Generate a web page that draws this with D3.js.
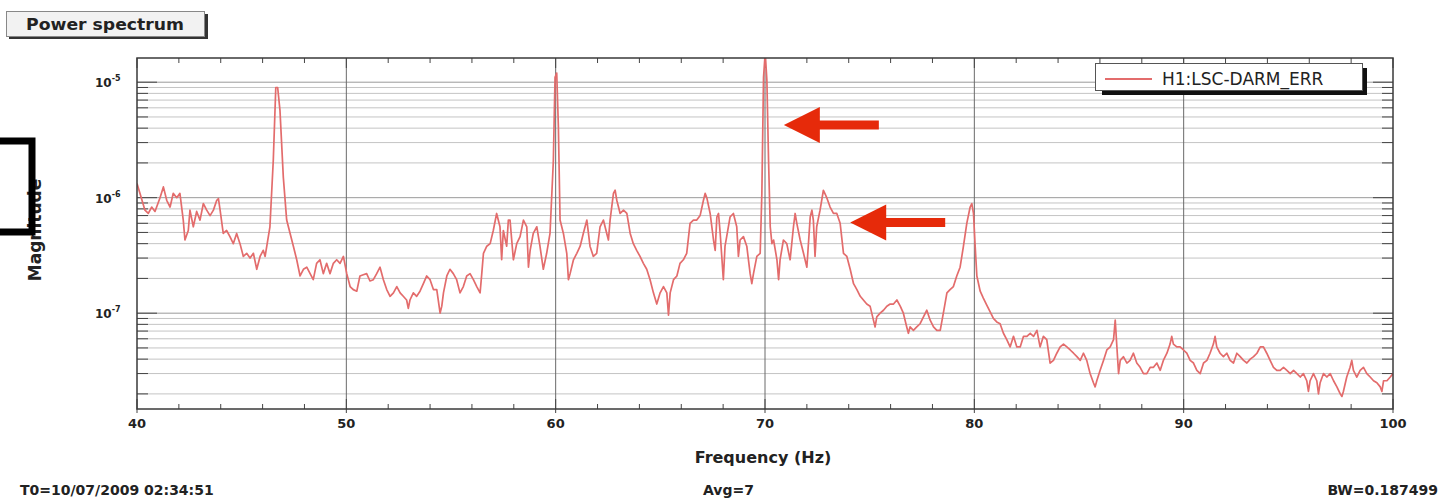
<!DOCTYPE html>
<html><head><meta charset="utf-8">
<script src="https://cdn.jsdelivr.net/npm/d3@7"></script>
<style>body{margin:0;background:#fff}svg{display:block}</style>
</head><body>
<script>
// ---- data ----
const frequency = [
40.00,40.14,40.38,40.54,40.70,40.86,41.10,41.26,41.42,41.58,41.73,41.90,42.05,42.21,42.29,42.45,42.53,42.69,42.85,43.01,
43.17,43.33,43.49,43.65,43.81,43.89,43.97,44.12,44.28,44.44,44.60,44.76,44.92,45.08,45.24,45.40,45.56,45.72,45.88,46.03,
46.12,46.20,46.35,46.51,46.63,46.72,46.83,46.99,47.15,47.47,47.63,47.79,47.95,48.11,48.27,48.42,48.58,48.74,48.90,49.06,
49.22,49.38,49.54,49.70,49.86,50.02,50.18,50.33,50.50,50.65,50.81,50.97,51.13,51.29,51.45,51.61,51.77,51.93,52.09,52.25,
52.41,52.57,52.72,52.88,52.96,53.04,53.20,53.36,53.52,53.68,53.84,54.00,54.16,54.32,54.48,54.56,54.64,54.80,54.95,55.11,
55.27,55.43,55.59,55.75,55.91,56.07,56.23,56.39,56.47,56.55,56.71,56.87,57.02,57.18,57.34,57.42,57.50,57.66,57.74,57.82,
57.98,58.14,58.30,58.46,58.62,58.70,58.78,58.93,59.10,59.25,59.41,59.57,59.73,59.89,59.97,60.05,60.13,60.21,60.37,60.53,
60.61,60.69,60.85,61.01,61.17,61.32,61.49,61.64,61.80,61.96,62.12,62.28,62.44,62.52,62.60,62.76,62.84,62.92,63.08,63.24,
63.40,63.56,63.71,63.87,64.03,64.19,64.35,64.51,64.67,64.83,64.99,65.15,65.31,65.39,65.47,65.63,65.79,65.94,66.10,66.26,
66.42,66.58,66.74,66.90,67.06,67.14,67.22,67.38,67.54,67.62,67.70,67.78,67.86,68.01,68.09,68.17,68.33,68.49,68.65,68.73,
68.81,68.97,69.13,69.29,69.37,69.45,69.61,69.77,69.85,69.93,70.01,70.09,70.17,70.25,70.33,70.41,70.57,70.65,70.72,70.88,
71.04,71.20,71.36,71.44,71.52,71.68,71.84,72.00,72.16,72.24,72.31,72.39,72.47,72.63,72.79,72.95,73.11,73.27,73.43,73.59,
73.75,73.91,74.07,74.23,74.39,74.55,74.70,74.86,75.02,75.18,75.26,75.34,75.50,75.66,75.82,75.98,76.14,76.30,76.46,76.61,
76.77,76.85,76.93,77.09,77.25,77.41,77.57,77.73,77.89,78.05,78.21,78.37,78.52,78.69,78.84,79.00,79.16,79.32,79.48,79.64,
79.80,79.88,79.96,80.04,80.12,80.28,80.43,80.60,80.75,80.91,81.07,81.23,81.39,81.55,81.71,81.87,82.03,82.19,82.35,82.51,
82.67,82.83,82.99,83.14,83.30,83.46,83.62,83.78,83.94,84.10,84.26,84.42,84.58,84.74,84.90,85.06,85.21,85.37,85.53,85.69,
85.77,85.85,86.01,86.17,86.33,86.49,86.65,86.73,86.81,86.89,86.97,87.12,87.29,87.44,87.60,87.76,87.92,88.08,88.24,88.40,
88.56,88.72,88.88,89.03,89.20,89.35,89.43,89.51,89.67,89.83,89.99,90.15,90.31,90.47,90.63,90.79,90.95,91.11,91.26,91.42,
91.50,91.58,91.74,91.90,92.06,92.22,92.38,92.54,92.70,92.86,93.02,93.18,93.34,93.50,93.66,93.81,93.97,94.13,94.29,94.45,
94.61,94.77,94.93,95.09,95.25,95.41,95.57,95.72,95.88,95.96,96.04,96.20,96.36,96.44,96.52,96.68,96.84,97.00,97.16,97.32,
97.48,97.56,97.63,97.79,97.95,98.03,98.11,98.27,98.43,98.59,98.75,98.91,99.07,99.23,99.39,99.47,99.55,99.71,99.87,100.00
];
const magnitude = [
1.33e-6,1.09e-6,7.8e-7,7.3e-7,8.3e-7,7.6e-7,1.0e-6,1.24e-6,9.5e-7,8.3e-7,1.09e-6,1.0e-6,1.09e-6,6.4e-7,4.3e-7,5.2e-7,7.8e-7,5.6e-7,7.6e-7,6.4e-7,
8.9e-7,7.8e-7,7.0e-7,7.8e-7,9.5e-7,9.8e-7,7.8e-7,4.9e-7,5.2e-7,4.6e-7,4.0e-7,4.9e-7,4.0e-7,3.1e-7,3.3e-7,3.0e-7,3.3e-7,2.4e-7,3.1e-7,3.5e-7,
3.1e-7,3.8e-7,5.6e-7,2.1e-6,9.0e-6,9.0e-6,5.7e-6,1.5e-6,6.4e-7,3.8e-7,2.9e-7,2.1e-7,2.4e-7,2.5e-7,2.2e-7,1.95e-7,2.7e-7,2.9e-7,2.2e-7,2.7e-7,
2.2e-7,2.7e-7,2.9e-7,2.7e-7,3.1e-7,2.2e-7,1.7e-7,1.6e-7,1.55e-7,2.1e-7,2.15e-7,2.2e-7,1.9e-7,1.95e-7,2.2e-7,2.5e-7,1.95e-7,1.6e-7,1.4e-7,1.5e-7,
1.7e-7,1.5e-7,1.4e-7,1.3e-7,1.1e-7,1.3e-7,1.5e-7,1.4e-7,1.55e-7,1.8e-7,2.1e-7,1.95e-7,1.6e-7,1.6e-7,1.0e-7,1.15e-7,1.5e-7,2.1e-7,2.4e-7,2.2e-7,
1.95e-7,1.5e-7,1.7e-7,2.1e-7,2.2e-7,1.95e-7,1.7e-7,1.5e-7,2.2e-7,3.3e-7,3.8e-7,4.0e-7,5.2e-7,7.3e-7,5.6e-7,2.9e-7,5.2e-7,3.8e-7,6.4e-7,6.4e-7,
2.9e-7,4.0e-7,4.6e-7,6.4e-7,5.6e-7,2.5e-7,3.5e-7,4.9e-7,5.6e-7,3.8e-7,2.4e-7,3.3e-7,4.9e-7,2.1e-6,1.1e-5,1.2e-5,4.1e-6,6.4e-7,4.9e-7,3.3e-7,
1.95e-7,2.2e-7,2.9e-7,3.3e-7,3.8e-7,4.9e-7,6.4e-7,3.8e-7,3.1e-7,3.3e-7,5.6e-7,6.4e-7,4.9e-7,4.3e-7,6.4e-7,1.09e-6,1.16e-6,9.5e-7,7.3e-7,7.8e-7,
7.3e-7,4.9e-7,4.0e-7,3.5e-7,3.1e-7,2.7e-7,2.4e-7,1.95e-7,1.5e-7,1.2e-7,1.5e-7,1.7e-7,1.5e-7,9.6e-8,1.5e-7,1.95e-7,2.1e-7,2.7e-7,2.9e-7,3.3e-7,
6.0e-7,6.4e-7,6.4e-7,7.0e-7,9.5e-7,1.09e-6,1.0e-6,7.3e-7,4.3e-7,3.5e-7,6.8e-7,7.3e-7,4.9e-7,1.95e-7,3.8e-7,4.6e-7,6.8e-7,7.3e-7,5.6e-7,3.1e-7,
4.3e-7,4.6e-7,3.8e-7,2.2e-7,1.8e-7,2.2e-7,3.1e-7,3.3e-7,1.09e-6,1.1e-5,1.8e-5,1.04e-5,2.1e-6,5.6e-7,4.0e-7,4.3e-7,2.9e-7,1.95e-7,2.9e-7,4.3e-7,
4.0e-7,2.9e-7,5.6e-7,7.3e-7,6.0e-7,4.3e-7,3.3e-7,2.5e-7,6.8e-7,7.8e-7,6.4e-7,3.1e-7,5.6e-7,7.8e-7,1.16e-6,1.0e-6,8.3e-7,7.3e-7,7.3e-7,6.0e-7,
3.3e-7,3.1e-7,2.4e-7,1.8e-7,1.6e-7,1.4e-7,1.3e-7,1.2e-7,1.15e-7,8.7e-8,7.6e-8,9.3e-8,1.0e-7,1.06e-7,1.15e-7,1.2e-7,1.2e-7,1.3e-7,1.15e-7,1.0e-7,
7.6e-8,6.7e-8,7.6e-8,7.1e-8,7.6e-8,8.1e-8,9.3e-8,1.06e-7,8.7e-8,7.6e-8,7.1e-8,7.1e-8,1.0e-7,1.5e-7,1.6e-7,1.7e-7,2.1e-7,2.5e-7,3.8e-7,6.0e-7,
8.3e-7,8.9e-7,7.3e-7,3.8e-7,2.1e-7,1.55e-7,1.35e-7,1.17e-7,1.03e-7,9.0e-8,8.4e-8,8.1e-8,6.7e-8,5.9e-8,5.1e-8,6.3e-8,5.1e-8,5.1e-8,6.3e-8,6.3e-8,
6.7e-8,6.3e-8,7.1e-8,5.1e-8,6.3e-8,5.9e-8,3.7e-8,3.9e-8,4.5e-8,5.1e-8,5.4e-8,5.1e-8,4.8e-8,4.5e-8,4.2e-8,3.9e-8,4.5e-8,3.9e-8,3.0e-8,2.5e-8,
2.3e-8,2.6e-8,3.2e-8,3.9e-8,4.8e-8,5.1e-8,5.9e-8,8.7e-8,5.1e-8,3.0e-8,3.9e-8,4.2e-8,3.7e-8,3.9e-8,4.5e-8,3.7e-8,3.4e-8,3.0e-8,3.0e-8,3.4e-8,
3.4e-8,3.7e-8,3.2e-8,3.9e-8,4.5e-8,5.4e-8,6.3e-8,5.4e-8,5.1e-8,5.1e-8,4.8e-8,4.5e-8,3.9e-8,3.7e-8,3.2e-8,3.0e-8,3.7e-8,3.9e-8,4.5e-8,5.4e-8,
6.3e-8,5.1e-8,4.5e-8,4.2e-8,4.5e-8,3.9e-8,3.7e-8,4.5e-8,4.2e-8,3.9e-8,3.7e-8,4.0e-8,4.2e-8,4.5e-8,5.1e-8,5.1e-8,4.5e-8,3.9e-8,3.4e-8,3.2e-8,
3.2e-8,3.4e-8,3.2e-8,3.0e-8,3.2e-8,3.0e-8,2.8e-8,3.0e-8,2.6e-8,2.1e-8,2.6e-8,3.0e-8,2.6e-8,2.0e-8,2.5e-8,3.0e-8,2.8e-8,3.0e-8,2.6e-8,2.3e-8,
2.0e-8,1.9e-8,2.1e-8,2.8e-8,3.4e-8,3.9e-8,3.2e-8,2.8e-8,3.2e-8,3.4e-8,3.0e-8,2.8e-8,2.6e-8,2.5e-8,2.3e-8,2.1e-8,2.6e-8,2.6e-8,2.8e-8,3.0e-8
];
const xTickLabels = [40,50,60,70,80,90,100];
const yDecades = [1e-7,1e-6,1e-5];
const yDecadeExponents = ["-7","-6","-5"];
const titleText = "Power spectrum";
const seriesName = "H1:LSC-DARM_ERR";
const xTitle = "Frequency (Hz)";
const yTitle = "Magnitude";
const footerLeft = "T0=10/07/2009 02:34:51";
const footerMid = "Avg=7";
const footerRight = "BW=0.187499";
const arrowTipFreq = [70.9, 74.07];
const arrowTipMag = [4.25e-6, 6.1e-7];

// ---- chart ----
const W = 1448, H = 500;
const P = {l:137, r:1393, t:58, b:409};
const FONT = "'DejaVu Sans', sans-serif";
const svg = d3.select("body").append("svg").attr("width", W).attr("height", H);
const x = d3.scaleLinear().domain([40,100]).range([P.l, P.r]);
const y = d3.scaleLog().domain([1.48e-8, 1.62e-5]).range([P.b, P.t]);

// horizontal grid at every log minor value
const gridVals = [];
for (let e = -8; e <= -5; e++) for (let m = 1; m <= 9; m++) {
  const v = m * Math.pow(10, e);
  if (v >= y.domain()[0] && v <= y.domain()[1]) gridVals.push({v, major: m === 1});
}
const g = svg.append("g");
g.selectAll("line.hg").data(gridVals).join("line")
  .attr("x1", P.l).attr("x2", P.r)
  .attr("y1", d => y(d.v)).attr("y2", d => y(d.v))
  .attr("stroke", d => d.major ? "#9a9a9a" : "#c4c4c4")
  .attr("stroke-width", 1);

// vertical major grid
const xMajor = d3.range(50, 100, 10);
g.selectAll("line.vg").data(xMajor).join("line")
  .attr("x1", d => x(d)).attr("x2", d => x(d))
  .attr("y1", P.t).attr("y2", P.b)
  .attr("stroke", "#6a6a6a").attr("stroke-width", 1);

// ticks
const xMinor = d3.range(42, 100, 2).filter(v => v % 10 !== 0);
const tk = svg.append("g").attr("stroke", "#444").attr("stroke-width", 1);
xMinor.forEach(v => {
  tk.append("line").attr("x1", x(v)).attr("x2", x(v)).attr("y1", P.b).attr("y2", P.b - 5);
  tk.append("line").attr("x1", x(v)).attr("x2", x(v)).attr("y1", P.t).attr("y2", P.t + 5);
});
xTickLabels.forEach(v => {
  tk.append("line").attr("x1", x(v)).attr("x2", x(v)).attr("y1", P.b - 10).attr("y2", P.b + 4);
  tk.append("line").attr("x1", x(v)).attr("x2", x(v)).attr("y1", P.t).attr("y2", P.t + 10);
});
gridVals.forEach(d => {
  const L = d.major ? 20 : 11;
  tk.append("line").attr("x1", P.l).attr("x2", P.l + L).attr("y1", y(d.v)).attr("y2", y(d.v));
  tk.append("line").attr("x1", P.r).attr("x2", P.r - L).attr("y1", y(d.v)).attr("y2", y(d.v));
});

// data line
svg.append("clipPath").attr("id", "clip").append("rect")
  .attr("x", P.l).attr("y", P.t).attr("width", P.r - P.l).attr("height", P.b - P.t);
const pts = frequency.map((f, i) => [f, magnitude[i]]);
svg.append("path").datum(pts)
  .attr("clip-path", "url(#clip)")
  .attr("fill", "none").attr("stroke", "#e36c6c").attr("stroke-width", 1.7)
  .attr("stroke-linejoin", "round")
  .attr("d", d3.line().x(d => x(d[0])).y(d => y(d[1])));

// frame
svg.append("rect").attr("x", P.l).attr("y", P.t).attr("width", P.r - P.l).attr("height", P.b - P.t)
  .attr("fill", "none").attr("stroke", "#3a3a3a").attr("stroke-width", 1.5);

// tick labels
svg.append("g").selectAll("text").data(xTickLabels).join("text")
  .attr("x", d => x(d)).attr("y", 428).attr("text-anchor", "middle")
  .attr("font-family", FONT).attr("font-weight", "bold").attr("font-size", 13).attr("fill", "#222")
  .text(d => d);
const yl = svg.append("g").selectAll("text").data(yDecades).join("text")
  .attr("x", 95).attr("y", d => y(d) + 5)
  .attr("font-family", FONT).attr("font-weight", "bold").attr("font-size", 12).attr("fill", "#222");
yl.append("tspan").text("10");
yl.append("tspan").attr("font-size", 8).attr("dy", -6).text((d, i) => yDecadeExponents[i]);

// axis titles
svg.append("text").attr("x", 763).attr("y", 463).attr("text-anchor", "middle")
  .attr("font-family", FONT).attr("font-weight", "bold").attr("font-size", 16).attr("fill", "#222")
  .text(xTitle);
svg.append("text").attr("transform", "translate(41,230) rotate(-90)").attr("text-anchor", "middle")
  .attr("font-family", FONT).attr("font-weight", "bold").attr("font-size", 17).attr("fill", "#222")
  .text(yTitle);

// footer
const ft = (t, xx, anchor) => svg.append("text").attr("x", xx).attr("y", 495).attr("text-anchor", anchor)
  .attr("font-family", FONT).attr("font-weight", "bold").attr("font-size", 14).attr("fill", "#222").text(t);
ft(footerLeft, 20, "start");
ft(footerMid, 703, "start");
ft(footerRight, 1438, "end");

// title box
svg.append("rect").attr("x", 9).attr("y", 14).attr("width", 199).attr("height", 25).attr("fill", "#333");
svg.append("rect").attr("x", 6.5).attr("y", 11.5).attr("width", 198).attr("height", 25)
  .attr("fill", "#f2f2f2").attr("stroke", "#888").attr("stroke-width", 1);
svg.append("text").attr("x", 26).attr("y", 30)
  .attr("font-family", FONT).attr("font-weight", "bold").attr("font-size", 16.5).attr("fill", "#222")
  .attr("textLength", 158).attr("lengthAdjust", "spacingAndGlyphs")
  .text(titleText);

// legend
svg.append("rect").attr("x", 1102).attr("y", 68).attr("width", 265).attr("height", 27).attr("fill", "#111");
svg.append("rect").attr("x", 1095.5).attr("y", 63.5).attr("width", 267).attr("height", 27)
  .attr("fill", "#fff").attr("stroke", "#555").attr("stroke-width", 1);
svg.append("line").attr("x1", 1105).attr("x2", 1152).attr("y1", 79).attr("y2", 79)
  .attr("stroke", "#e36c6c").attr("stroke-width", 2);
svg.append("text").attr("x", 1162).attr("y", 85)
  .attr("font-family", FONT).attr("font-size", 17).attr("fill", "#222").text(seriesName);

// bracket annotation
svg.append("path").attr("d", "M-5,141 H32 V232 H-5")
  .attr("fill", "none").attr("stroke", "#000").attr("stroke-width", 7);

// red arrows
arrowTipFreq.forEach((f, i) => {
  const tx = x(f), ty = y(arrowTipMag[i]);
  svg.append("path")
    .attr("d", `M${tx},${ty} L${tx+36},${ty-18} L${tx+36},${ty-4.5} L${tx+95},${ty-4.5} L${tx+95},${ty+4.5} L${tx+36},${ty+4.5} L${tx+36},${ty+18} Z`)
    .attr("fill", "#e62a0a");
});
</script>
</body></html>
